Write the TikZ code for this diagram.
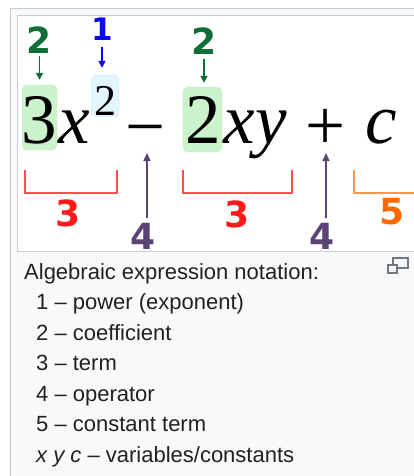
\documentclass[tikz,border=0pt]{standalone}
\usepackage{fontspec}
\usepackage{xcolor}
\usepackage{tikz}
\usetikzlibrary{arrows.meta}
\setmainfont{Liberation Sans}
\newfontfamily\eqfont{Liberation Serif}
\newfontfamily\labfont{DejaVu Sans}
\definecolor{AlgGreen}{HTML}{0F6E37}
\definecolor{AlgGreenFill}{HTML}{CBF3CB}
\definecolor{AlgGreenLine}{HTML}{9CD89C}
\definecolor{AlgBlue}{HTML}{0A0AF5}
\definecolor{AlgBlueFill}{HTML}{E3F5FF}
\definecolor{AlgBlueLine}{HTML}{9CC8FF}
\definecolor{AlgRed}{HTML}{FF1A1A}
\definecolor{AlgRedLine}{HTML}{FF5050}
\definecolor{AlgPurple}{HTML}{594475}
\definecolor{AlgOrange}{HTML}{FF6A00}
\definecolor{AlgOrangeLine}{HTML}{FF944D}
\definecolor{AlgFrame}{HTML}{C8CCD1}
\definecolor{AlgPanel}{HTML}{F8F9FA}
\definecolor{AlgText}{HTML}{202122}
\definecolor{AlgIcon}{HTML}{72777D}

\begin{document}
\begin{tikzpicture}[x=1pt,y=-1pt,
  glyph/.style={anchor=base,inner sep=0pt,text=black,font=\eqfont\fontsize{71}{71}\selectfont},
  numlab/.style={inner sep=0pt,font=\labfont\bfseries\fontsize{36}{36}\selectfont},
  coefbox/.style={draw=AlgGreenLine,fill=AlgGreenFill,densely dotted,rounded corners=5pt,inner sep=0pt},
  powbox/.style={draw=AlgBlueLine,fill=AlgBlueFill,densely dotted,rounded corners=5pt,inner sep=0pt},
  downarr/.style={-{Triangle[length=7pt,width=7pt]},line width=1.6pt},
  uparr/.style={-{Triangle[length=8pt,width=7pt]},line width=1.6pt,AlgPurple},
  termbr/.style={line width=1.8pt},
  capline/.style={anchor=base west,inner sep=0pt,text=AlgText,font=\fontsize{22}{22}\selectfont}]
\path[use as bounding box] (0,0) rectangle (414,476);
\fill[white] (0,0) rectangle (414,476);
\filldraw[fill=AlgPanel,draw=AlgFrame] (10.5,8.5) rectangle (430,490);
\filldraw[fill=white,draw=AlgFrame] (17.5,15.5) rectangle (430,251);
% expression
\begin{scope}
\clip (18,16) rectangle (414,250.5);
\node[coefbox,minimum width=35pt,minimum height=65pt] (cbox1) at (39.5,117.5) {};
\node[powbox,minimum width=28pt,minimum height=42pt] (pbox) at (105,96) {};
\node[coefbox,minimum width=39pt,minimum height=65pt] (cbox2) at (202.5,119.5) {};
\node[glyph] (g3) at (39.5,143) {3};
\node[glyph] (gx) at (74,143) {\itshape x};
\node[glyph,font=\eqfont\fontsize{44}{44}\selectfont] (gsup) at (105,116) {2};
\node[glyph] (gminus) at (146,150) {−};
\node[glyph] (g2) at (203,143) {2};
\node[glyph] (gxy) at (255,143) {\itshape xy};
\node[glyph] (gplus) at (326,149) {+};
\node[glyph] (gc) at (381,143) {\itshape c};
% labels
\node[numlab,text=AlgGreen] (lab2a) at (39.5,40) {2};
\node[numlab,text=AlgBlue,font=\labfont\bfseries\fontsize{31}{31}\selectfont] (lab1) at (102,29) {1};
\node[numlab,text=AlgGreen] (lab2b) at (204,41) {2};
\draw[downarr,AlgGreen,shorten <=2pt,shorten >=5pt] (lab2a) -- (lab2a |- cbox1.north);
\draw[downarr,AlgBlue,shorten <=7pt,shorten >=7pt] (lab1) -- (lab1 |- pbox.north);
\draw[downarr,AlgGreen,shorten <=4pt,shorten >=4pt] (lab2b) -- (lab2b |- cbox2.north);
% terms
\draw[termbr,AlgRedLine] (25,170) -- (25,193) -- (117,193) -- (117,170);
\draw[termbr,AlgRedLine] (183,170) -- (183,193) -- (292,193) -- (292,170);
\draw[termbr,AlgOrangeLine] (354,170) -- (354,193) -- (420,193);
\node[numlab,text=AlgRed] (lab3a) at (68.5,213.5) {3};
\node[numlab,text=AlgRed] (lab3b) at (237,214) {3};
\node[numlab,text=AlgOrange] (lab5) at (392,212) {5};
% operators
\coordinate (op1) at (147,153);
\coordinate (op2) at (326,153);
\node[numlab,text=AlgPurple] (lab4a) at (143,236.5) {4};
\node[numlab,text=AlgPurple] (lab4b) at (322,236.5) {4};
\draw[uparr,shorten <=5pt] (lab4a.north -| op1) -- (op1);
\draw[uparr,shorten <=5pt] (lab4b.north -| op2) -- (op2);
\end{scope}
% caption
\draw[AlgIcon,line width=1.3pt] (393,258) rectangle (408,268);
\filldraw[fill=AlgPanel,draw=AlgIcon,line width=1.3pt] (388,265) rectangle (397,273);
\node[capline] (cap) at (24,279) {Algebraic expression notation:};
\node[capline] (it1) at (36,309.5) {1 – power (exponent)};
\node[capline] (it2) at (36,340) {2 – coefficient};
\node[capline] (it3) at (36,370.5) {3 – term};
\node[capline] (it4) at (36,401) {4 – operator};
\node[capline] (it5) at (36,431.5) {5 – constant term};
\node[capline] (it6) at (36,462) {\textit{x y c} – variables/constants};
\end{tikzpicture}
\end{document}
